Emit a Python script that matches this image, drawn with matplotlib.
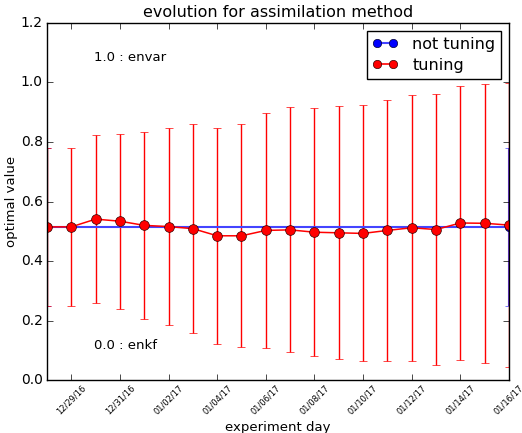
import matplotlib
matplotlib.use("Agg")
import matplotlib.pyplot as plt
import matplotlib.dates as mdates
from matplotlib.lines import Line2D
import numpy as np
import pandas as pd

plt.style.use("classic")

# data
days = pd.date_range("2016-12-28", "2017-01-16", freq="D")
tuning = [0.515, 0.515, 0.541, 0.534, 0.520, 0.516, 0.509, 0.485, 0.485, 0.503,
          0.505, 0.497, 0.495, 0.493, 0.503, 0.512, 0.506, 0.528, 0.527, 0.521]
tuning_err = [0.265, 0.265, 0.281, 0.294, 0.313, 0.331, 0.350, 0.362, 0.375, 0.394,
              0.411, 0.416, 0.425, 0.430, 0.439, 0.446, 0.456, 0.459, 0.468, 0.476]
not_tuning_days = [days[0], days[-1]]
not_tuning = [0.515, 0.515]
not_tuning_err = [0.265, 0.265]

fig = plt.figure(figsize=(5.22, 4.33), dpi=100, facecolor="white")
ax = fig.add_axes([0.09, 0.122, 0.885, 0.825])

ax.errorbar(not_tuning_days, not_tuning, yerr=not_tuning_err, fmt="-o", color="#4444ff",
            ecolor="#4444ff", mfc="b", mec="#000033", ms=6, lw=1.5, capsize=3)
ax.errorbar(days, tuning, yerr=tuning_err, fmt="-o", color="r",
            ecolor="r", mec="#330000", ms=7, lw=1.1, elinewidth=1, capsize=3)

ax.set_ylim(0, 1.2)
ax.set_xlim(days[0], days[-1])
ax.xaxis.set_major_locator(mdates.DayLocator(bymonthday=[29, 31, 2, 4, 6, 8, 10, 12, 14, 16]))
ax.xaxis.set_major_formatter(mdates.DateFormatter("%m/%d/%y"))
plt.setp(ax.get_xticklabels(), rotation=45, fontsize=6)
ax.tick_params(axis="x", pad=2)
ax.tick_params(axis="y", labelsize=10, pad=3)

ax.text(0.102, 0.902, "1.0 : envar", transform=ax.transAxes, fontsize=9.5, va="center")
ax.text(0.102, 0.098, "0.0 : enkf", transform=ax.transAxes, fontsize=9.5, va="center")

ax.set_title("evolution for assimilation method", fontsize=11.5, pad=4)
ax.set_xlabel("experiment day", fontsize=9.5, labelpad=4)
ax.set_ylabel("optimal value", fontsize=9.5, labelpad=2)

handles = [Line2D([], [], color="#4444ff", marker="o", mfc="b", mec="#000033", ms=6, lw=1.5),
           Line2D([], [], color="r", marker="o", mec="#330000", ms=6, lw=1.2)]
ax.legend(handles, ["not tuning", "tuning"], loc="upper right", fontsize=11.5,
          numpoints=2, borderaxespad=0.5, handletextpad=0.9, handlelength=1.6,
          labelspacing=0.4, borderpad=0.35)

fig.savefig("out.png", dpi=100, facecolor="white")
